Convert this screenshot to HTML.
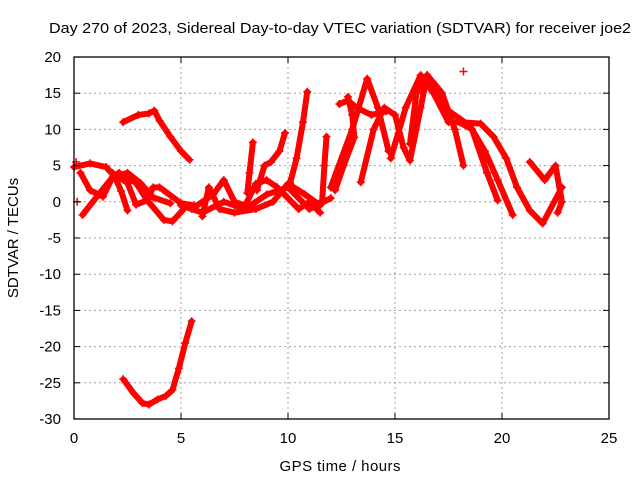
<!DOCTYPE html>
<html><head><meta charset="utf-8"><style>
body{margin:0;background:#fff;}
svg{display:block;font-family:"Liberation Sans",Arial,sans-serif;}
</style></head><body>
<svg id="chart" width="640" height="480">
<rect width="640" height="480" fill="#fff"/>
<text x="340" y="33" font-size="15" text-anchor="middle" textLength="582" lengthAdjust="spacingAndGlyphs">Day 270 of 2023, Sidereal Day-to-day VTEC variation (SDTVAR) for receiver joe2</text>
<g id="grid"></g>
<g id="series"></g>
<rect x="74" y="57" width="535" height="362" fill="none" stroke="#000" stroke-width="1.3"/>
<g id="ticks"></g>
<text x="340" y="471" font-size="15" text-anchor="middle" textLength="121">GPS time / hours</text>
<text transform="translate(18,238) rotate(-90)" font-size="15" text-anchor="middle">SDTVAR / TECUs</text>
</svg>
<script>
const xTicks=[0,5,10,15,20,25];
const yTicks=[20,15,10,5,0,-5,-10,-15,-20,-25,-30];
const seriesNames=["a","b","l1","l2","l3","l4","m1","m2","m3","mid1","mid2","mid3","mid4","mid5","r1","r2","r3","r4","r5","r6","r7"];
const s_a=[[2.3,11],[3.0,12],[3.5,12.2],[3.75,12.6],[4.0,11.2],[4.5,9],[5.0,7],[5.4,5.8]];
const s_b=[[2.3,-24.5],[2.8,-26.5],[3.2,-27.8],[3.5,-28],[3.9,-27.3],[4.3,-26.8],[4.6,-26],[4.9,-23],[5.2,-19.5],[5.5,-16.5]];
const s_l1=[[0,4.8],[0.75,5.3],[1.5,4.8],[1.9,3.5],[2.2,1.5],[2.5,-1.2]];
const s_l2=[[0.4,-1.8],[1.2,1.2],[1.7,3],[2.1,4],[2.9,2.6],[3.4,0.3],[4.2,-2.5],[4.6,-2.7],[5.1,-1.1]];
const s_l3=[[1.8,4],[2.5,2.6],[2.9,-0.4],[3.4,0.2],[3.7,2],[4.0,2],[5,-0.2],[5.6,-0.5]];
const s_l4=[[0.3,4],[0.75,1.6],[1.35,0.7],[1.8,3.4],[2.5,4],[3.1,2.6],[3.7,0.6],[4.5,-0.2]];
const s_m1=[[5,-0.5],[6,-1.5],[7,0],[8,-1],[9,1],[10,2],[11,-1],[12,0.5]];
const s_m2=[[5.5,-1],[6.5,1],[7,3],[7.5,0],[8,-0.5],[8.5,2.5],[9,3],[9.5,2],[10,0.5],[10.5,-1],[11,0],[11.5,-1.5]];
const s_m3=[[6,-2],[6.3,2],[6.8,-1],[7.5,-1.5],[8.5,-1],[9.3,0],[10,2.5],[10.8,1],[11.5,-0.5]];
const s_mid1=[[8.1,1.2],[8.2,4],[8.36,8.2]];
const s_mid2=[[8.55,1.6],[8.9,5],[9.2,5.5],[9.6,7],[9.86,9.5]];
const s_mid3=[[10.1,2.6],[10.4,6],[10.7,11],[10.9,15.2]];
const s_mid4=[[11.6,0.2],[11.7,5],[11.8,9]];
const s_mid5=[[12.2,1.6],[12.6,5],[13.1,8.9],[13.0,12],[12.8,14.5]];
const s_r1=[[12.0,2],[13.0,10],[13.7,17],[14.2,13],[14.7,7]];
const s_r2=[[13.4,2.7],[14.0,10],[14.5,13],[15.0,12],[15.4,7.5],[15.7,5.7],[16.2,13],[16.5,17.5],[17.2,15],[17.8,10],[18.2,5]];
const s_r3=[[14.8,6],[15.5,13],[16.2,17.5],[16.8,15],[17.5,11],[18.0,11],[18.6,10],[19.3,4],[19.8,0.2]];
const s_r4=[[15.7,8],[16.0,15],[16.5,17.5],[17.3,13],[18.5,10.5],[19.2,7],[19.8,3],[20.5,-1.8]];
const s_r5=[[18.0,11],[19,10.8],[19.6,9],[20.2,6],[20.7,2],[21.3,-1.2],[21.9,-3],[22.8,2]];
const s_r6=[[21.3,5.5],[22,3],[22.5,5],[22.8,0],[22.6,-1.5]];
const s_r7=[[12.4,13.5],[12.8,14],[13.2,13],[13.9,12],[14.6,12.5]];
const allSeries=[s_a,s_b,s_l1,s_l2,s_l3,s_l4,s_m1,s_m2,s_m3,s_mid1,s_mid2,s_mid3,s_mid4,s_mid5,s_r1,s_r2,s_r3,s_r4,s_r5,s_r6,s_r7];
const singles=[[0.1,5.5],[0.15,0],[18.2,18]];
const X=t=>74+t*(535/25);
const Y=v=>57+(20-v)*(362/50);
const NS="http://www.w3.org/2000/svg";
const grid=document.getElementById('grid'),ticks=document.getElementById('ticks'),ser=document.getElementById('series');
function mk(tag,attrs,parent){const e=document.createElementNS(NS,tag);for(const k in attrs)e.setAttribute(k,attrs[k]);parent.appendChild(e);return e;}
xTicks.forEach(t=>{
  if(t>0&&t<25){const g=mk('line',{x1:X(t),x2:X(t),y1:57,y2:419,stroke:'#a0a0a0','stroke-dasharray':'2,3'},grid);
  
  }
  mk('line',{x1:X(t),x2:X(t),y1:419,y2:413,stroke:'#000'},ticks);
  mk('line',{x1:X(t),x2:X(t),y1:57,y2:63,stroke:'#000'},ticks);
  const l=mk('text',{x:X(t),y:443,'font-size':15,'text-anchor':'middle'},ticks);l.textContent=t;
  
  
});
yTicks.forEach(v=>{
  if(v<20&&v>-30){const g=mk('line',{x1:74,x2:609,y1:Y(v),y2:Y(v),stroke:'#a0a0a0','stroke-dasharray':'2,3'},grid);
  
  }
  mk('line',{x1:74,x2:80,y1:Y(v),y2:Y(v),stroke:'#000'},ticks);
  mk('line',{x1:609,x2:603,y1:Y(v),y2:Y(v),stroke:'#000'},ticks);
  const l=mk('text',{x:61,y:Y(v)+5,'font-size':15,'text-anchor':'end'},ticks);l.textContent=v;
  
  
});
function cross(x,y,p){mk('path',{d:`M${x-4},${y}H${x+4}M${x},${y-4}V${y+4}`,stroke:'#f00','stroke-width':1.5},p);}
allSeries.forEach((s,i)=>{
  const g=mk('g',{},ser);
  
  
  const pts=s.map(p=>X(p[0])+','+Y(p[1])).join(' ');
  mk('polyline',{points:pts,fill:'none',stroke:'#f00','stroke-width':6,'stroke-linejoin':'round','stroke-linecap':'round'},g);
  s.forEach(p=>cross(X(p[0]),Y(p[1]),g));
});
singles.forEach(p=>{const g=mk('g',{},ser);
  
  
  cross(X(p[0]),Y(p[1]),g);});
</script>
</body></html>
